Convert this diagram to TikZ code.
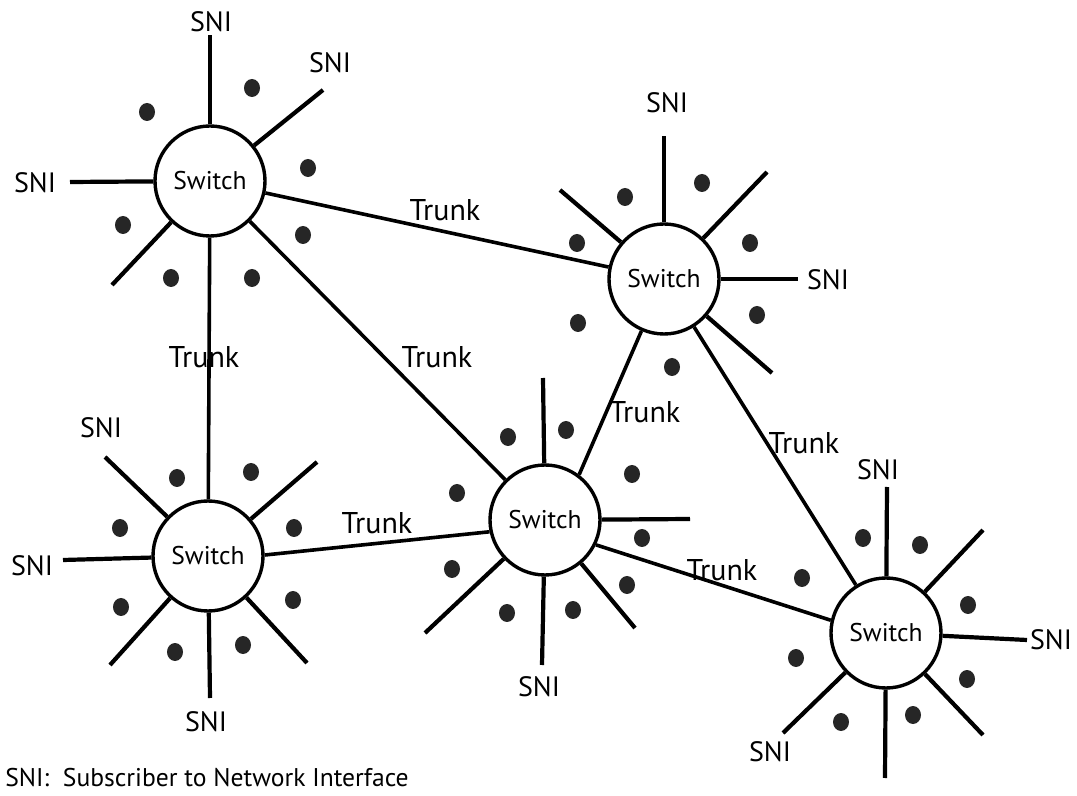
\documentclass[tikz,border=0pt]{standalone}
\usepackage{fontspec}
\setmainfont{PT Sans}
\usetikzlibrary{calc}

\begin{document}
\begin{tikzpicture}[
    x=0.5pt, y=-0.5pt,
    switch/.style={draw, circle, line width=1.7pt, minimum size=55pt, inner sep=0pt,
                   font=\fontsize{12.8}{14}\selectfont},
    spoke/.style={line width=2.1pt},
    trunk/.style={line width=1.8pt},
    sni/.style={font=\fontsize{14}{16}\selectfont},
    tlabel/.style={font=\fontsize{15}{17}\selectfont},
    dot/.style={fill=black!85},
]
    \useasboundingbox (0,0) rectangle (1077,796);

    %==================== SWITCHES ====================
    \node[switch] (s1) at (210,181) {Switch};
    \node[switch] (s2) at (664,279) {Switch};
    \node[switch] (s3) at (208,556) {Switch};
    \node[switch] (s4) at (545,520) {Switch};
    \node[switch] (s5) at (886,633) {Switch};

    %==================== TRUNKS ====================
    \draw[trunk] (s1) -- (s2);
    \draw[trunk] (s1) -- (s3);
    \draw[trunk] (s1) -- (s4);
    \draw[trunk] (s2) -- (s4.53);
    \draw[trunk] (s2) -- (s5);
    \draw[trunk] (s3.1) -- (s4.192);
    \draw[trunk] (s4.-26) -- (s5.167);

    \node[tlabel] (t12) at (445,210) {Trunk};
    \node[tlabel] (t13) at (204,357) {Trunk};
    \node[tlabel] (t14) at (437,357) {Trunk};
    \node[tlabel] (t24) at (645,412) {Trunk};
    \node[tlabel] (t25) at (804,443) {Trunk};
    \node[tlabel] (t34) at (377,523) {Trunk};
    \node[tlabel] (t45) at (722,570) {Trunk};

    %==================== SPOKES: switch 1 ====================
    \coordinate (s1-up) at (210,35);
    \coordinate (s1-ur) at (323,90);
    \coordinate (s1-l)  at (70,182);
    \coordinate (s1-ll) at (112,285);
    \foreach \e in {up,ur,l,ll} \draw[spoke] (s1) -- (s1-\e);
    \node[sni] (sni1a) at (211,22) {SNI};
    \node[sni] (sni1b) at (330,63) {SNI};
    \node[sni] (sni1c) at (35,183) {SNI};
    \foreach \p in {(147,112),(252,88),(308,168),(123,225),(303,235),(171,278),(252,278)}
        \fill[dot] \p ellipse [x radius=4pt, y radius=4.5pt];

    %==================== SPOKES: switch 2 ====================
    \coordinate (s2-up) at (664,136);
    \coordinate (s2-ur) at (767,172);
    \coordinate (s2-ul) at (560,190);
    \coordinate (s2-r)  at (798,279);
    \coordinate (s2-lr) at (772,373);
    \foreach \e in {up,ur,ul,r,lr} \draw[spoke] (s2) -- (s2-\e);
    \node[sni] (sni2a) at (667,103) {SNI};
    \node[sni] (sni2b) at (828,280) {SNI};
    \foreach \p in {(625,197),(702,183),(577,243),(750,243),(578,323),(757,315),(672,367)}
        \fill[dot] \p ellipse [x radius=4pt, y radius=4.5pt];

    %==================== SPOKES: switch 3 ====================
    \coordinate (s3-ul) at (105,457);
    \coordinate (s3-ur) at (317,462);
    \coordinate (s3-l)  at (63,560);
    \coordinate (s3-ll) at (110,665);
    \coordinate (s3-dn) at (210,698);
    \coordinate (s3-lr) at (307,663);
    \foreach \e in {ul,ur,l,ll,dn,lr} \draw[spoke] (s3) -- (s3-\e);
    \node[sni] (sni3a) at (101,428) {SNI};
    \node[sni] (sni3b) at (32,566) {SNI};
    \node[sni] (sni3c) at (206,722) {SNI};
    \foreach \p in {(177,478),(251,472),(120,528),(294,528),(121,607),(293,600),(175,652),(243,645)}
        \fill[dot] \p ellipse [x radius=4pt, y radius=4.5pt];

    %==================== SPOKES: switch 4 ====================
    \coordinate (s4-up) at (543,378);
    \coordinate (s4-r)  at (690,519);
    \coordinate (s4-lr) at (635,628);
    \coordinate (s4-dn) at (542,665);
    \coordinate (s4-ll) at (425,633);
    \foreach \e in {up,r,lr,dn,ll} \draw[spoke] (s4) -- (s4-\e);
    \node[sni] (sni4a) at (539,687) {SNI};
    \foreach \p in {(508,437),(566,430),(457,493),(632,474),(642,538),(452,569),(627,585),(507,613),(573,610)}
        \fill[dot] \p ellipse [x radius=4pt, y radius=4.5pt];

    %==================== SPOKES: switch 5 ====================
    \coordinate (s5-up) at (887,487);
    \coordinate (s5-ur) at (983,530);
    \coordinate (s5-r)  at (1027,640);
    \coordinate (s5-lr) at (983,735);
    \coordinate (s5-dn) at (885,778);
    \coordinate (s5-ll) at (783,733);
    \foreach \e in {up,ur,r,lr,dn,ll} \draw[spoke] (s5) -- (s5-\e);
    \node[sni] (sni5a) at (878,470) {SNI};
    \node[sni] (sni5b) at (1051,640) {SNI};
    \node[sni] (sni5c) at (770,752) {SNI};
    \foreach \p in {(863,538),(920,545),(802,578),(968,605),(796,658),(967,679),(841,722),(913,715)}
        \fill[dot] \p ellipse [x radius=4pt, y radius=4.5pt];

    %==================== LEGEND ====================
    \node[font=\fontsize{12.8}{14}\selectfont, anchor=west, inner sep=0pt] (legend) at (5,778)
        {SNI:\ \ Subscriber to Network Interface};

\end{tikzpicture}
\end{document}
